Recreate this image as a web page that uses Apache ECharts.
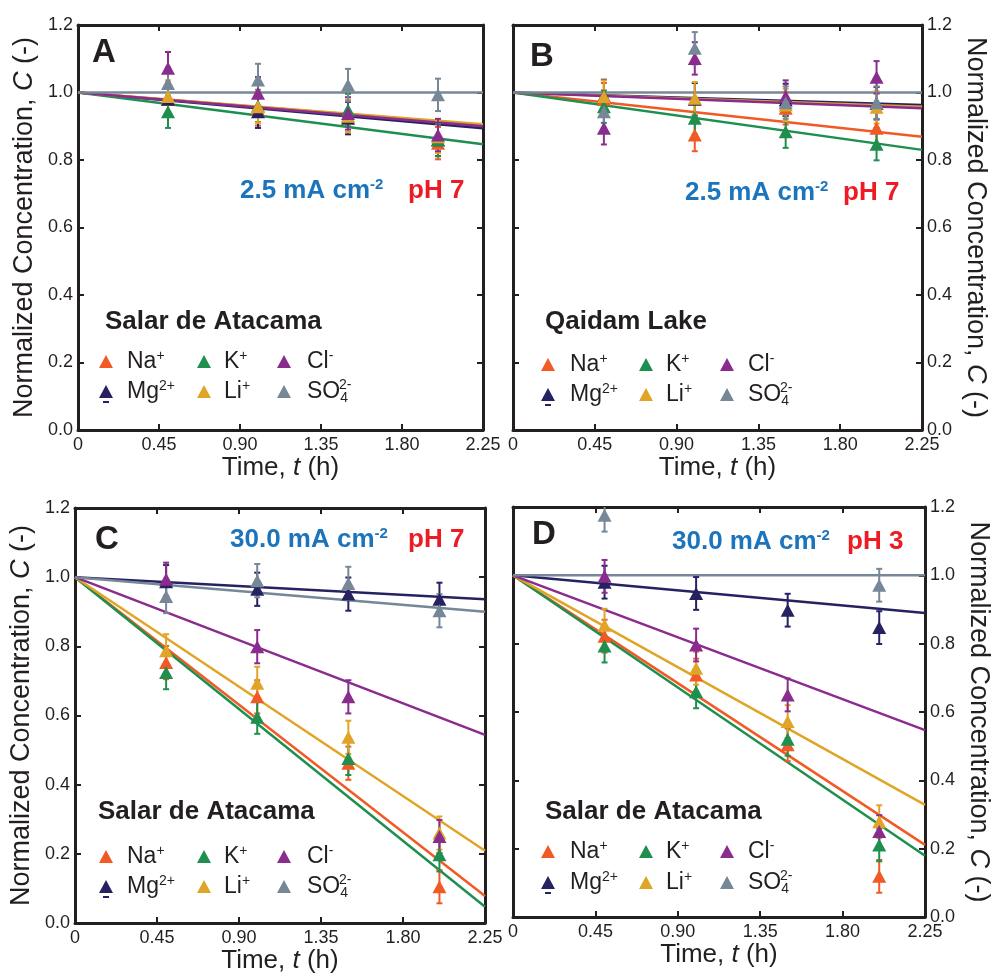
<!DOCTYPE html>
<html>
<head>
<meta charset="utf-8">
<script src="https://cdn.jsdelivr.net/npm/echarts@6/dist/echarts.min.js"></script>
<style>
  html, body { margin: 0; padding: 0; background: #fff; }
  #chart { width: 993px; height: 980px; }
</style>
</head>
<body>
<div id="chart"></div>
<script>
// sampling times (h) and axis ranges
const timesH = [0.5, 1.0, 1.5, 2.0];
const tMax = 2.25;
const tStep = 0.45;
const cMax = 1.2;
const cStep = 0.2;
const errBar = 0.048;

const ionKeys = ['Na', 'Mg', 'K', 'Li', 'Cl', 'SO4'];
const ionColors = ['#F15A24', '#262262', '#1E8F4E', '#E0A526', '#8A2C8D', '#768798'];

// A - Salar de Atacama, 2.5 mA cm-2, pH 7
const aNa = [0.98, 0.95, 0.93, 0.85];
const aMg = [0.98, 0.943, 0.924, 0.86];
const aK = [0.943, 0.96, 0.948, 0.859];
const aLi = [0.988, 0.958, 0.93, 0.869];
const aCl = [1.072, 0.998, 0.938, 0.874];
const aSO4 = [1.027, 1.037, 1.022, 0.993];
const aFitEnd = [0.904, 0.894, 0.847, 0.906, 0.90, 1.0];

// B - Qaidam Lake, 2.5 mA cm-2, pH 7
const bNa = [0.98, 0.874, 0.953, 0.894];
const bMg = [0.99, 0.98, 0.978, 0.968];
const bK = [0.958, 0.924, 0.884, 0.847];
const bLi = [0.988, 0.983, 0.963, 0.956];
const bCl = [0.894, 1.101, 0.988, 1.045];
const bSO4 = [0.943, 1.131, 0.97, 0.97];
const bFitEnd = [0.869, 0.963, 0.830, 0.958, 0.953, 1.0];

// C - Salar de Atacama, 30.0 mA cm-2, pH 7
const cNa = [0.753, 0.654, 0.462, 0.105];
const cMg = [0.987, 0.965, 0.951, 0.936];
const cK = [0.724, 0.595, 0.476, 0.197];
const cLi = [0.787, 0.693, 0.537, 0.26];
const cCl = [0.994, 0.799, 0.654, 0.25];
const cSO4 = [0.944, 0.990, 0.982, 0.903];
const cFitEnd = [0.078, 0.936, 0.047, 0.209, 0.544, 0.900];

// D - Salar de Atacama, 30.0 mA cm-2, pH 3
const dNa = [0.822, 0.708, 0.504, 0.119];
const dMg = [0.98, 0.947, 0.898, 0.847];
const dK = [0.793, 0.659, 0.520, 0.211];
const dLi = [0.854, 0.728, 0.572, 0.279];
const dCl = [0.997, 0.796, 0.650, 0.250];
const dSO4 = [1.176, null, null, 0.971];
const dFitEnd = [0.211, 0.890, 0.179, 0.328, 0.547, 1.0];

const panelData = [
    [aNa, aMg, aK, aLi, aCl, aSO4],
    [bNa, bMg, bK, bLi, bCl, bSO4],
    [cNa, cMg, cK, cLi, cCl, cSO4],
    [dNa, dMg, dK, dLi, dCl, dSO4]
];
const panelFits = [aFitEnd, bFitEnd, cFitEnd, dFitEnd];

const FONT = 'Liberation Sans, Arial, Helvetica, sans-serif';
const INK = '#231F20';
const BLUE = '#1C75BC';
const RED = '#ED1C24';

const grids = [
    { left: 78, top: 25, width: 405, height: 405 },
    { left: 513, top: 25, width: 409, height: 405 },
    { left: 75, top: 508, width: 410, height: 415 },
    { left: 513, top: 507, width: 414, height: 410 }
];
const labelsRight = [false, true, false, true];

const xAxes = [];
const yAxes = [];
grids.forEach((g, i) => {
    const lineStyle = { color: INK, width: 3 };
    const tick = { show: true, inside: true, length: 6, lineStyle: { color: INK, width: 2 } };
    xAxes.push({
        gridIndex: i, type: 'value', position: 'bottom',
        min: 0, max: tMax, interval: tStep,
        axisLine: { show: true, onZero: false, lineStyle },
        axisTick: tick,
        splitLine: { show: false },
        axisLabel: {
            margin: 6, color: INK, fontFamily: FONT, fontSize: 18,
            formatter: v => v === 0 ? '0' : v.toFixed(2)
        },
        name: 'Time, {i|t} (h)',
        nameLocation: 'middle', nameGap: 24,
        nameTextStyle: {
            color: INK, fontFamily: FONT, fontSize: 26,
            rich: { i: { fontStyle: 'italic', fontFamily: FONT, fontSize: 26, color: INK } }
        }
    });
    xAxes.push({
        gridIndex: i, type: 'value', position: 'top',
        min: 0, max: tMax, interval: tStep,
        axisLine: { show: true, onZero: false, lineStyle },
        axisTick: tick,
        splitLine: { show: false },
        axisLabel: { show: false }
    });
    const yName = {
        name: 'Normalized Concentration, {i|C} (-)',
        nameLocation: 'middle',
        nameGap: 40,
        nameRotate: labelsRight[i] ? -90 : 90,
        nameTextStyle: {
            color: INK, fontFamily: FONT, fontSize: 27,
            rich: { i: { fontStyle: 'italic', fontFamily: FONT, fontSize: 27, color: INK } }
        }
    };
    const yLabel = {
        margin: 5, color: INK, fontFamily: FONT, fontSize: 18,
        formatter: v => v.toFixed(1)
    };
    yAxes.push(Object.assign({
        gridIndex: i, type: 'value', position: 'left',
        min: 0, max: cMax, interval: cStep,
        axisLine: { show: true, onZero: false, lineStyle },
        axisTick: tick,
        splitLine: { show: false },
        axisLabel: labelsRight[i] ? { show: false } : yLabel
    }, labelsRight[i] ? {} : yName));
    yAxes.push(Object.assign({
        gridIndex: i, type: 'value', position: 'right',
        min: 0, max: cMax, interval: cStep,
        axisLine: { show: true, onZero: false, lineStyle },
        axisTick: tick,
        splitLine: { show: false },
        axisLabel: labelsRight[i] ? yLabel : { show: false }
    }, labelsRight[i] ? yName : {}));
});

const errorBarItem = (params, api) => {
    const x = api.value(0), y = api.value(1), e = api.value(2);
    const top = api.coord([x, y + e]);
    const bot = api.coord([x, y - e]);
    const cap = 3;
    const color = api.visual('color');
    const st = { stroke: color, lineWidth: 2 };
    return {
        type: 'group',
        children: [
            { type: 'line', shape: { x1: top[0], y1: top[1], x2: bot[0], y2: bot[1] }, style: st },
            { type: 'line', shape: { x1: top[0] - cap, y1: top[1], x2: top[0] + cap, y2: top[1] }, style: st },
            { type: 'line', shape: { x1: bot[0] - cap, y1: bot[1], x2: bot[0] + cap, y2: bot[1] }, style: st }
        ]
    };
};

const series = [];
panelData.forEach((ions, p) => {
    // fitted lines through (0, 1)
    ions.forEach((vals, k) => {
        series.push({
            type: 'line', xAxisIndex: 2 * p, yAxisIndex: 2 * p,
            data: [[0, 1], [tMax, panelFits[p][k]]],
            showSymbol: false, symbol: 'none', silent: true, z: 2,
            lineStyle: { color: ionColors[k], width: 2.5 }
        });
    });
    ions.forEach((vals, k) => {
        const pts = timesH.map((t, j) => [t, vals[j]]).filter(d => d[1] != null);
        series.push({
            type: 'custom', xAxisIndex: 2 * p, yAxisIndex: 2 * p,
            renderItem: errorBarItem, clip: true, z: 3,
            itemStyle: { color: ionColors[k] },
            data: pts.map(d => [d[0], d[1], errBar])
        });
        series.push({
            type: 'scatter', xAxisIndex: 2 * p, yAxisIndex: 2 * p,
            symbol: 'triangle', symbolSize: [14, 13], z: 4,
            itemStyle: { color: ionColors[k], opacity: 1 },
            data: pts
        });
    });
});

// annotations: panel letters, conditions, brine names, legends
const graphics = [];
const plainText = (x, y, text, opt) => {
    graphics.push({
        type: 'text', x: x, y: y,
        style: Object.assign({ text: text, fill: INK, fontFamily: FONT, fontSize: 23, verticalAlign: 'middle' }, opt)
    });
};

const letters = ['A', 'B', 'C', 'D'];
const letterPos = [[92, 53], [530, 57], [95, 540], [532, 535]];
const condText = ['2.5 mA cm', '2.5 mA cm', '30.0 mA cm', '30.0 mA cm'];
const condPos = [[240, 191], [685, 193], [230, 540], [672, 542]];
const phText = ['pH 7', 'pH 7', 'pH 7', 'pH 3'];
const phPos = [[408, 191], [843, 193], [408, 540], [847, 542]];
const brine = ['Salar de Atacama', 'Qaidam Lake', 'Salar de Atacama', 'Salar de Atacama'];
const brinePos = [[105, 322], [545, 322], [98, 812], [545, 812]];
const legTriX = [[106, 204, 284], [548, 646, 727], [106, 204, 284], [548, 646, 727]];
const legLabX = [[127, 224, 307], [570, 666, 748], [127, 224, 307], [570, 666, 748]];
const legRowY = [[362, 392], [365, 395], [857, 887], [852, 883]];

const legendCells = [
    { ion: 0, col: 0, row: 0, text: '{b|Na}{sup|+}' },
    { ion: 2, col: 1, row: 0, text: '{b|K}{sup|+}' },
    { ion: 4, col: 2, row: 0, text: '{b|Cl}{sup|-}' },
    { ion: 1, col: 0, row: 1, text: '{b|Mg}{sup|2+}' },
    { ion: 3, col: 1, row: 1, text: '{b|Li}{sup|+}' },
    { ion: 5, col: 2, row: 1, text: '{b|SO}{sub|4}' }
];
const legRich = {
    b: { fontFamily: FONT, fontSize: 23, lineHeight: 26, fill: INK, verticalAlign: 'middle' },
    sup: { fontFamily: FONT, fontSize: 14, lineHeight: 14, fill: INK, verticalAlign: 'top' },
    sub: { fontFamily: FONT, fontSize: 14, lineHeight: 12, fill: INK, verticalAlign: 'bottom' }
};

for (let p = 0; p < 4; p++) {
    plainText(letterPos[p][0], letterPos[p][1], letters[p], { fontSize: 33, fontWeight: 'bold', fill: INK });
    plainText(condPos[p][0], condPos[p][1], '{b|' + condText[p] + '}{sup|-2}', {
        fill: BLUE,
        rich: {
            b: { fontFamily: FONT, fontSize: 26, fontWeight: 'bold', fill: BLUE, lineHeight: 28, verticalAlign: 'middle' },
            sup: { fontFamily: FONT, fontSize: 15, fontWeight: 'bold', fill: BLUE, lineHeight: 15, verticalAlign: 'top' }
        }
    });
    plainText(phPos[p][0], phPos[p][1], phText[p], { fontSize: 26, fontWeight: 'bold', fill: RED });
    plainText(brinePos[p][0], brinePos[p][1], brine[p], { fontSize: 26, fontWeight: 'bold', fill: INK });

    legendCells.forEach(c => {
        const tx = legTriX[p][c.col];
        const ty = legRowY[p][c.row];
        graphics.push({
            type: 'polygon',
            shape: { points: [[tx - 7, ty + 6], [tx, ty - 7], [tx + 7, ty + 6]] },
            style: { fill: ionColors[c.ion] }
        });
        if (c.ion === 1) {
            graphics.push({
                type: 'line',
                shape: { x1: tx - 3, y1: ty + 10, x2: tx + 3, y2: ty + 10 },
                style: { stroke: ionColors[c.ion], lineWidth: 2 }
            });
        }
        plainText(legLabX[p][c.col], ty, c.text, { rich: legRich });
        if (c.ion === 5) {
            plainText(legLabX[p][c.col] + 32, ty - 7, '2-', { fontSize: 14 });
        }
    });
}

const chart = echarts.init(document.getElementById('chart'), null, { renderer: 'canvas' });
chart.setOption({
    backgroundColor: '#ffffff',
    animation: false,
    grid: grids,
    xAxis: xAxes,
    yAxis: yAxes,
    series: series,
    graphic: graphics
});
</script>
</body>
</html>
